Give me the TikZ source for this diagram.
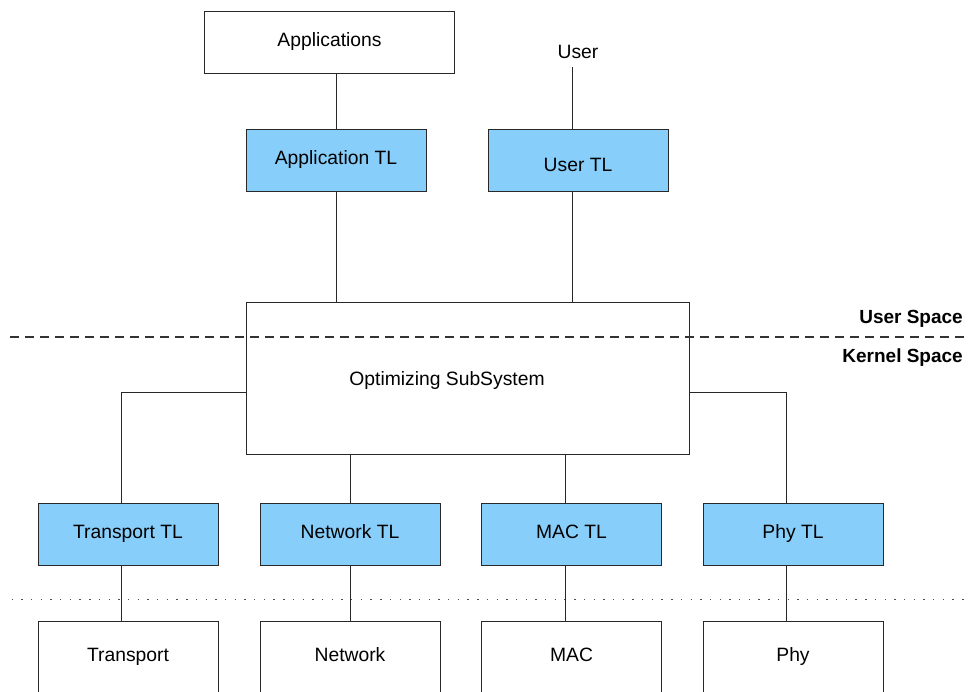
\documentclass[tikz,border=0pt]{standalone}
\usepackage{fontspec}
\setmainfont{Liberation Sans}
\definecolor{tlblue}{RGB}{135,206,250}
\definecolor{linec}{RGB}{40,40,40}
\begin{document}
\begin{tikzpicture}[x=1pt,y=-1pt,
  every node/.style={font=\fontsize{19.3}{22}\selectfont, inner sep=0pt, text height=14pt, text depth=5.4pt},
  plainbox/.style={draw=linec, line width=1pt, fill=white, minimum height=62pt},
  tlbox/.style={draw=linec, line width=1pt, fill=tlblue, minimum width=180pt, minimum height=62pt},
  conn/.style={draw=linec, line width=1pt},
  sep/.style={line width=1.1pt, draw=black!80}]
\useasboundingbox (0,0) rectangle (969,691);
% top
\node[plainbox, minimum width=250pt] (app) at (329.5,42) {Applications};
\node[tlbox] (apptl) at (336,160) {Application TL};
\node (userlbl) at (578,54) {User};
\node[tlbox, text height=25pt, text depth=3pt] (usertl) at (578,160) {User TL};
% optimizing subsystem
\node[plainbox, minimum width=443pt, minimum height=152pt] (opt) at (467.5,378) {};
\node (optlbl) at (447,381) {Optimizing SubSystem};
% space labels
\node[anchor=east, font=\fontsize{19}{22}\selectfont\bfseries] (us) at (963,319) {User Space};
\node[anchor=east, font=\fontsize{19}{22}\selectfont\bfseries] (ks) at (963,358) {Kernel Space};
% TL row
\node[tlbox] (ttl) at (128,534) {Transport TL};
\node[tlbox] (ntl) at (350,534) {Network TL};
\node[tlbox] (mtl) at (571.5,534) {MAC TL};
\node[tlbox] (ptl) at (793,534) {Phy TL};
% bottom row
\node[plainbox, minimum width=180pt, minimum height=73pt] (tr) at (128,657.5) {Transport};
\node[plainbox, minimum width=180pt, minimum height=73pt] (nw) at (350,657.5) {Network};
\node[plainbox, minimum width=180pt, minimum height=73pt] (mac) at (571.5,657.5) {MAC};
\node[plainbox, minimum width=180pt, minimum height=73pt] (phy) at (793,657.5) {Phy};
% separators
\coordinate (dl) at (10,337);
\coordinate (dr) at (969,337);
\draw[sep, dash pattern=on 9pt off 6pt] (dl) -- (dr);
\coordinate (tl) at (11.5,599.5);
\coordinate (tr2) at (969,599.5);
\draw[line width=1.6pt, dash pattern=on 1.4pt off 8.3pt, draw=black!70] (tl) -- (tr2);
% connector x positions
\coordinate (xu) at (572,0);
\coordinate (xt) at (121,0);
\coordinate (xn) at (350,0);
\coordinate (xm) at (565,0);
\coordinate (xp) at (786,0);
\coordinate (yb) at (0,392.5);
\coordinate (ut) at (572,67);
% top connectors
\draw[conn] (apptl.north) -- (apptl.north |- app.south);
\draw[conn] (apptl.south) -- (apptl.south |- opt.north);
\draw[conn] (ut) -- (usertl.north -| xu);
\draw[conn] (usertl.south -| xu) -- (opt.north -| xu);
% branches
\draw[conn] (opt.west |- yb) -| (ttl.north -| xt);
\draw[conn] (opt.east |- yb) -| (ptl.north -| xp);
\draw[conn] (opt.south -| xn) -- (ntl.north -| xn);
\draw[conn] (opt.south -| xm) -- (mtl.north -| xm);
% lower connectors
\draw[conn] (ttl.south -| xt) -- (tr.north -| xt);
\draw[conn] (ntl.south -| xn) -- (nw.north -| xn);
\draw[conn] (mtl.south -| xm) -- (mac.north -| xm);
\draw[conn] (ptl.south -| xp) -- (phy.north -| xp);
\end{tikzpicture}
\end{document}
